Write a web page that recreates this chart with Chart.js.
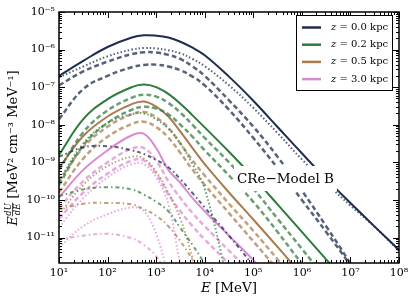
<!DOCTYPE html>
<html>
<head>
<meta charset="utf-8">
<script src="https://cdn.jsdelivr.net/npm/chart.js@4.4.0/dist/chart.umd.min.js"></script>
<style>
  html, body { margin: 0; padding: 0; background: #fff; }
</style>
</head>
<body>
<canvas id="crePlot" width="415" height="301"></canvas>
<script>
const energy = [10, 31.6, 100, 316, 562, 1000, 1780, 3160, 5620, 1e4, 3.16e4, 1e5, 3.16e5, 1e6, 3.16e6, 1e7, 3.16e7, 1e8];

// z = 0.0 kpc
const z00Solid   = [2.0e-7, 5.01e-7, 1.17e-6, 2.09e-6, 2.40e-6, 2.34e-6, 2.09e-6, 1.62e-6, 1.12e-6, 7.08e-7, 1.91e-7, 4.37e-8, 8.71e-9, 1.74e-9, 3.63e-10, 8.32e-11, 1.95e-11, 4.68e-12];
const z00Dotted  = [1.82e-7, 3.55e-7, 6.61e-7, 1.0e-6, 1.10e-6, 1.07e-6, 9.55e-7, 7.94e-7, 5.62e-7, 3.63e-7, 1.12e-7, 2.82e-8, 6.03e-9, 1.20e-9, 2.82e-10, 7.08e-11, 1.91e-11, 4.47e-12];
const z00DashA   = [1.12e-7, 2.63e-7, 4.79e-7, 7.59e-7, 8.51e-7, 8.32e-7, 7.24e-7, 5.62e-7, 3.55e-7, 2.0e-7, 4.47e-8, 8.91e-9, 1.41e-9, 1.78e-10, 2.0e-11, 2.0e-12, 1.58e-13];
const z00DashB   = [1.41e-8, 8.91e-8, 2.0e-7, 3.39e-7, 3.89e-7, 3.98e-7, 3.55e-7, 2.82e-7, 1.91e-7, 1.12e-7, 2.51e-8, 4.47e-9, 7.08e-10, 1.0e-10, 1.41e-11, 1.78e-12, 1.58e-13];
const z00DashDot = [1.41e-9, 2.51e-9, 2.69e-9, 2.09e-9, 1.66e-9, 1.17e-9, 7.41e-10, 3.55e-10, 1.51e-10, 6.31e-11, 1.12e-11, 1.78e-12, 2.51e-13];

// z = 0.2 kpc
const z02Solid   = [1.58e-9, 1.41e-8, 4.79e-8, 1.0e-7, 1.17e-7, 1.0e-7, 6.61e-8, 3.63e-8, 1.78e-8, 8.51e-9, 1.91e-9, 3.98e-10, 7.59e-11, 1.41e-11, 2.63e-12, 5.01e-13];
const z02DashA   = [6.31e-10, 6.31e-9, 2.40e-8, 5.25e-8, 6.31e-8, 5.62e-8, 3.80e-8, 2.09e-8, 1.0e-8, 4.47e-9, 1.0e-9, 2.0e-10, 3.16e-11, 5.01e-12, 7.94e-13];
const z02DashB   = [2.51e-10, 2.82e-9, 1.12e-8, 2.51e-8, 3.02e-8, 2.69e-8, 1.91e-8, 1.0e-8, 4.79e-9, 2.09e-9, 4.47e-10, 8.91e-11, 1.41e-11, 2.0e-12, 3.16e-13];
const z02Dotted  = [3.16e-10, 3.16e-9, 1.12e-8, 1.91e-8, 2.0e-8, 1.41e-8, 7.94e-9, 3.16e-9, 8.91e-10, 2.0e-10, 5.01e-13];
const z02DashDot = [1.26e-10, 1.91e-10, 2.19e-10, 1.91e-10, 1.38e-10, 8.91e-11, 5.01e-11, 1.78e-11, 6.31e-12, 2.0e-12, 1.58e-13];

// z = 0.5 kpc
const z05Solid   = [7.08e-10, 5.01e-9, 1.66e-8, 3.55e-8, 4.17e-8, 3.02e-8, 1.66e-8, 6.61e-9, 2.40e-9, 8.91e-10, 1.58e-10, 3.02e-11, 5.62e-12, 1.0e-12];
const z05DashA   = [3.16e-10, 2.51e-9, 8.91e-9, 1.91e-8, 2.19e-8, 1.58e-8, 8.32e-9, 3.16e-9, 1.12e-9, 4.47e-10, 7.94e-11, 1.51e-11, 2.63e-12, 4.47e-13];
const z05DashB   = [1.58e-10, 1.26e-9, 4.79e-9, 1.05e-8, 1.20e-8, 8.71e-9, 4.57e-9, 1.78e-9, 6.31e-10, 2.51e-10, 4.47e-11, 7.94e-12, 1.41e-12, 2.51e-13];
const z05Dotted  = [3.98e-11, 2.51e-10, 7.94e-10, 1.41e-9, 1.26e-9, 5.62e-10, 1.58e-10, 3.16e-11, 2.82e-12, 1.58e-13];
const z05DashDot = [5.62e-11, 7.94e-11, 8.32e-11, 7.59e-11, 5.62e-11, 3.80e-11, 2.0e-11, 7.94e-12, 2.51e-12, 6.31e-13];

// z = 3.0 kpc
const z30Solid   = [1.17e-10, 6.31e-10, 2.09e-9, 5.25e-9, 5.75e-9, 2.40e-9, 6.31e-10, 2.82e-10, 1.12e-10, 5.01e-11, 1.12e-11, 2.51e-12, 5.01e-13];
const z30DashA   = [6.03e-11, 3.16e-10, 1.0e-9, 2.34e-9, 2.40e-9, 1.12e-9, 3.16e-10, 1.12e-10, 4.47e-11, 2.0e-11, 4.47e-12, 1.0e-12];
const z30DashB   = [3.16e-11, 1.58e-10, 5.01e-10, 1.12e-9, 1.12e-9, 5.01e-10, 1.41e-10, 5.01e-11, 2.0e-11, 8.91e-12, 2.0e-12, 3.98e-13];
const z30DotA    = [1.86e-11, 1.12e-10, 3.98e-10, 8.91e-10, 8.91e-10, 3.98e-10, 7.94e-11, 2.0e-12, 1.58e-13];
const z30DotB    = [5.37e-12, 2.0e-11, 4.17e-11, 6.31e-11, 5.01e-11, 1.26e-11, 1.0e-12];
const z30DashDot = [8.91e-12, 1.12e-11, 1.26e-11, 9.55e-12, 6.31e-12, 3.16e-12, 1.0e-12];

const heights = ['0.0', '0.2', '0.5', '3.0'];
const xTicks = [1e1, 1e2, 1e3, 1e4, 1e5, 1e6, 1e7, 1e8];
const xTickLabels = ['10¹', '10²', '10³', '10⁴', '10⁵', '10⁶', '10⁷', '10⁸'];
const yTicks = [1e-11, 1e-10, 1e-9, 1e-8, 1e-7, 1e-6, 1e-5];
const yTickLabels = ['10⁻¹¹', '10⁻¹⁰', '10⁻⁹', '10⁻⁸', '10⁻⁷', '10⁻⁶', '10⁻⁵'];

const solidColours = ['#1d2d4d', '#2e7a3b', '#a97b4e', '#d98ad2'];
const fadedColours = ['rgba(29,45,77,0.75)', 'rgba(46,122,59,0.72)', 'rgba(169,123,78,0.72)', 'rgba(217,138,210,0.72)'];

const styles = {
  solid:   { borderWidth: 2,   borderDash: [] },
  dotted:  { borderWidth: 2,   borderDash: [1.5, 2.2] },
  dashed:  { borderWidth: 2.5, borderDash: [5, 3] },
  dashdot: { borderWidth: 2,   borderDash: [4, 3, 1.5, 3] },
};

// [values, height index, style]
const series = [
  [z00Solid, 0, 'solid'], [z00Dotted, 0, 'dotted'], [z00DashA, 0, 'dashed'], [z00DashB, 0, 'dashed'], [z00DashDot, 0, 'dashdot'],
  [z02Solid, 1, 'solid'], [z02DashA, 1, 'dashed'], [z02DashB, 1, 'dashed'], [z02Dotted, 1, 'dotted'], [z02DashDot, 1, 'dashdot'],
  [z05Solid, 2, 'solid'], [z05DashA, 2, 'dashed'], [z05DashB, 2, 'dashed'], [z05Dotted, 2, 'dotted'], [z05DashDot, 2, 'dashdot'],
  [z30Solid, 3, 'solid'], [z30DashA, 3, 'dashed'], [z30DashB, 3, 'dashed'], [z30DotA, 3, 'dotted'], [z30DotB, 3, 'dotted'], [z30DashDot, 3, 'dashdot'],
];

const datasets = series.map(([vals, h, style]) => ({
  label: style === 'solid' ? 'z = ' + heights[h] + ' kpc' : '',
  data: energy.map((e, i) => ({ x: e, y: vals[i] })).filter(p => p.y != null),
  borderColor: style === 'solid' ? solidColours[h] : fadedColours[h],
  borderWidth: styles[style].borderWidth,
  borderDash: styles[style].borderDash,
  pointRadius: 0,
  fill: false,
  tension: 0.4,
  clip: 0,
  isLegend: style === 'solid',
}));

const serif = "'DejaVu Serif', serif";
Chart.defaults.font.family = serif;
Chart.defaults.color = '#000';

// frame, inward ticks, label box, legend and axis titles
const decor = {
  id: 'decor',
  afterDraw(chart) {
    const { ctx, chartArea: a, scales: { x, y } } = chart;
    ctx.save();

    // model label with white box
    const note = 'CRe\u2212Model B';
    ctx.font = '13.5px ' + serif;
    const nw = ctx.measureText(note).width;
    ctx.fillStyle = '#fff';
    ctx.fillRect(234, 166, nw + 6, 25);
    ctx.fillStyle = '#000';
    ctx.textBaseline = 'alphabetic';
    ctx.fillText(note, 237, 183);

    // ticks on all sides
    ctx.strokeStyle = '#000';
    ctx.lineWidth = 1;
    const tickSet = (scale, horiz) => {
      const lo = Math.floor(Math.log10(scale.min)), hi = Math.ceil(Math.log10(scale.max));
      for (let d = lo; d <= hi; d++) {
        for (let m = 1; m < 10; m++) {
          const v = m * Math.pow(10, d);
          if (v < scale.min * 0.999 || v > scale.max * 1.001) continue;
          const p = Math.round(scale.getPixelForValue(v)) + 0.5;
          const len = m === 1 ? 6 : 3;
          ctx.beginPath();
          if (horiz) {
            ctx.moveTo(p, a.bottom); ctx.lineTo(p, a.bottom - len);
            ctx.moveTo(p, a.top); ctx.lineTo(p, a.top + len);
          } else {
            ctx.moveTo(a.left, p); ctx.lineTo(a.left + len, p);
            ctx.moveTo(a.right, p); ctx.lineTo(a.right - len, p);
          }
          ctx.stroke();
        }
      }
    };
    tickSet(x, true);
    tickSet(y, false);

    ctx.lineWidth = 1.5;
    ctx.strokeRect(a.left, a.top, a.right - a.left, a.bottom - a.top);

    // legend
    const entries = chart.data.datasets.filter(d => d.isLegend);
    const lx = 296.5, ly = 15.5, lw = 96, lh = 75;
    ctx.fillStyle = '#fff';
    ctx.fillRect(lx, ly, lw, lh);
    ctx.lineWidth = 1;
    ctx.strokeStyle = '#000';
    ctx.strokeRect(lx, ly, lw, lh);
    entries.forEach((d, i) => {
      const ry = 27.5 + i * 17.2;
      ctx.strokeStyle = d.borderColor;
      ctx.lineWidth = 2.5;
      ctx.beginPath(); ctx.moveTo(302, ry); ctx.lineTo(321, ry); ctx.stroke();
      ctx.fillStyle = '#000';
      ctx.textBaseline = 'middle';
      ctx.font = 'italic 10px ' + serif;
      ctx.fillText('z', 331, ry);
      const zw = ctx.measureText('z').width;
      ctx.font = '10px ' + serif;
      ctx.fillText(d.label.slice(1), 331 + zw, ry);
    });

    // x title
    ctx.textBaseline = 'alphabetic';
    ctx.font = 'italic 13.5px ' + serif;
    const ew = ctx.measureText('E').width;
    ctx.font = '13.5px ' + serif;
    const rest = ' [MeV]';
    const rw = ctx.measureText(rest).width;
    const cx = (a.left + a.right) / 2 - (ew + rw) / 2;
    ctx.font = 'italic 13.5px ' + serif;
    ctx.fillText('E', cx, 292);
    ctx.font = '13.5px ' + serif;
    ctx.fillText(rest, cx + ew, 292);

    // y title
    ctx.translate(17, 148);
    ctx.rotate(-Math.PI / 2);
    const units = ' [MeV\u00b2 cm\u207b\u00b3 MeV\u207b\u00b9]';
    ctx.font = 'italic 13px ' + serif;
    const e2 = ctx.measureText('E').width;
    ctx.font = 'italic 8.5px ' + serif;
    const fw = Math.max(ctx.measureText('dU').width, ctx.measureText('dE').width) + 1;
    ctx.font = '13px ' + serif;
    const uw = ctx.measureText(units).width;
    let sx = -(e2 + fw + uw) / 2;
    ctx.font = 'italic 13px ' + serif;
    ctx.fillText('E', sx, 0);
    sx += e2;
    ctx.font = 'italic 8.5px ' + serif;
    ctx.textAlign = 'center';
    ctx.fillText('dU', sx + fw / 2, -6);
    ctx.fillText('dE', sx + fw / 2, 3);
    ctx.lineWidth = 0.7;
    ctx.strokeStyle = '#000';
    ctx.beginPath(); ctx.moveTo(sx, -4.5); ctx.lineTo(sx + fw, -4.5); ctx.stroke();
    ctx.textAlign = 'left';
    ctx.font = '13px ' + serif;
    ctx.fillText(units, sx + fw, 0);

    ctx.restore();
  }
};

const crePlot = new Chart(document.getElementById('crePlot'), {
  type: 'line',
  data: { datasets },
  options: {
    responsive: false,
    animation: false,
    devicePixelRatio: 1,
    layout: { padding: { top: 12, right: 16, left: 0, bottom: 0 } },
    plugins: { legend: { display: false }, tooltip: { enabled: false } },
    scales: {
      x: {
        type: 'logarithmic',
        min: 10,
        max: 1e8,
        grid: { display: false, drawTicks: false },
        border: { display: false },
        afterBuildTicks: s => { s.ticks = xTicks.map(v => ({ value: v })); },
        afterFit: s => { s.height = 38; },
        ticks: {
          padding: 4,
          autoSkip: false,
          maxRotation: 0,
          font: { size: 11 },
          callback: (v, i) => xTickLabels[i],
        },
      },
      y: {
        type: 'logarithmic',
        min: 2.1e-12,
        max: 1e-5,
        grid: { display: false, drawTicks: false },
        border: { display: false },
        afterBuildTicks: s => { s.ticks = yTicks.map(v => ({ value: v })); },
        afterFit: s => { s.width = 59; },
        ticks: {
          padding: 4,
          autoSkip: false,
          font: { size: 11 },
          callback: (v, i) => yTickLabels[i],
        },
      },
    },
  },
  plugins: [decor],
});
</script>
</body>
</html>
